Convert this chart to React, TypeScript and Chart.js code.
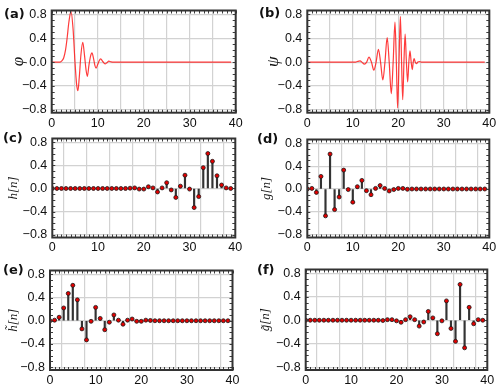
import React, { useEffect, useRef } from "react";
import { Chart, registerables } from "chart.js";

Chart.register(...registerables);

// ---------- data ----------
const sampleIndex = [
  0, 1, 2, 3, 4, 5, 6, 7, 8, 9, 10, 11, 12, 13, 14, 15, 16, 17, 18, 19,
  20, 21, 22, 23, 24, 25, 26, 27, 28, 29, 30, 31, 32, 33, 34, 35, 36, 37, 38, 39,
];

// (c) h[n]
const hValues = [
  0, 0, 0, 0, 0, 0, 0, 0, 0, 0, 0, 0, 0, 0, 0, 0, 0, 0.005, 0.01, -0.01,
  -0.01, 0.03, 0.01, -0.06, 0.01, 0.1, -0.025, -0.155, 0.04, 0.23, -0.01, -0.33, -0.14, 0.36, 0.605, 0.47, 0.22, 0.06, 0.01, 0,
];

// (d) g[n]
const gValues = [
  0, 0.01, -0.06, 0.22, -0.47, 0.61, -0.36, -0.14, 0.33, -0.01, -0.23, 0.04, 0.15, -0.03, -0.1, 0.01, 0.06, 0.01, -0.035, -0.01,
  0.01, 0.01, -0.005, 0, 0, 0, 0, 0, 0, 0, 0, 0, 0, 0, 0, 0, 0, 0, 0, 0,
];

// (e) h~[n]
const hTildeValues = [
  0, 0.01, 0.06, 0.22, 0.47, 0.61, 0.36, -0.14, -0.33, -0.01, 0.23, 0.04, -0.155, -0.025, 0.1, 0.01, -0.06, 0.01, 0.03, -0.01,
  -0.01, 0.01, 0.005, 0, 0, 0, 0, 0, 0, 0, 0, 0, 0, 0, 0, 0, 0, 0, 0, 0,
];

// (f) g~[n]
const gTildeValues = [
  0, 0, 0, 0, 0, 0, 0, 0, 0, 0, 0, 0, 0, 0, 0, 0, 0, -0.005, 0.01, 0.01,
  -0.01, -0.035, 0.01, 0.06, 0.01, -0.1, -0.03, 0.15, 0.04, -0.23, -0.01, 0.33, -0.14, -0.36, 0.61, -0.47, 0.22, -0.06, 0.01, 0,
];

// (a) scaling function phi
const phiX = [
  0, 1.8, 2.2, 2.6, 3.0, 3.35, 3.75, 4.2, 4.65, 5.05, 5.4, 5.7, 6.0, 6.35, 6.75, 7.15, 7.45, 7.75,
  8.1, 8.45, 8.75, 9.1, 9.4, 9.65, 10.0, 10.3, 10.65, 11.1, 11.6, 12.0, 12.4, 12.9, 13.5, 39,
];
const phiY = [
  0, 0, 0.02, 0.07, 0.2, 0.4, 0.68, 0.85, 0.55, 0.02, -0.36, -0.48, -0.25, 0.12, 0.33, 0.1, -0.12, -0.24,
  -0.05, 0.1, 0.155, 0.06, -0.06, -0.1, -0.04, 0.02, 0.055, 0.01, -0.03, -0.01, 0.015, 0.005, 0, 0,
];

// (b) wavelet psi
const psiX = [
  0, 9.5, 10.6, 11.0, 11.6, 12.0, 12.55, 13.05, 13.55, 14.1, 14.62, 15.12, 15.63, 16.1, 16.6, 17.07, 17.55, 18.0,
  18.46, 18.87, 19.27, 19.57, 19.85, 20.15, 20.46, 20.72, 20.97, 21.24, 21.5, 21.78, 22.06, 22.32, 22.57, 22.83,
  23.08, 23.28, 23.47, 23.72, 23.98, 24.3, 24.6, 25.0, 39,
];
const psiY = [
  0, 0, 0, 0.01, 0.02, 0.0, -0.035, 0.0, 0.085, 0.0, -0.135, 0.0, 0.215, 0.0, -0.3, 0.0, 0.41, 0.0,
  -0.53, 0.0, 0.67, 0.0, -0.77, 0.0, 0.765, 0.0, -0.63, 0.0, 0.47, 0.0, -0.33, 0.0, 0.19, 0.0,
  -0.125, 0.0, 0.06, 0.0, -0.025, 0.0, 0.01, 0, 0,
];

const yTickValues = [-0.8, -0.4, 0, 0.4, 0.8];
const xGridValues = [0, 5, 10, 15, 20, 25, 30, 35, 40];
const xLabelValues = [0, 10, 20, 30, 40];

// ---------- layout / style ----------
type PanelDef = {
  label: string;
  kind: "curve" | "stem";
  xs?: number[];
  ys: number[];
  yTitle: string;
  titleSize: number;
  titlePad: number;
  colX: number;
  L: number;
  R: number;
  T: number;
  B: number;
  labelX: number;
  labelY: number;
};

const PANELS: PanelDef[] = [
  { label: "(a)", kind: "curve", xs: phiX, ys: phiY, yTitle: "\u03c6", titleSize: 17, titlePad: 8.3, colX: 0, L: 51.7, R: 235.7, T: 6.7, B: 112.7, labelX: 4, labelY: 7 },
  { label: "(b)", kind: "curve", xs: psiX, ys: psiY, yTitle: "\u03c8", titleSize: 17, titlePad: 13.3, colX: 250, L: 307.3, R: 489.3, T: 6.5, B: 112.7, labelX: 259, labelY: 6 },
  { label: "(c)", kind: "stem", ys: hValues, yTitle: "h[n]", titleSize: 13, titlePad: 6.2, colX: 0, L: 52.3, R: 235.3, T: 134.5, B: 237.5, labelX: 3, labelY: 131 },
  { label: "(d)", kind: "stem", ys: gValues, yTitle: "g[n]", titleSize: 13, titlePad: 8.7, colX: 250, L: 307.3, R: 489.3, T: 135, B: 237.5, labelX: 257, labelY: 132 },
  { label: "(e)", kind: "stem", ys: hTildeValues, yTitle: "h\u0303[n]", titleSize: 13, titlePad: 5.7, colX: 0, L: 50, R: 232.5, T: 266, B: 370, labelX: 3, labelY: 263 },
  { label: "(f)", kind: "stem", ys: gTildeValues, yTitle: "g\u0303[n]", titleSize: 13, titlePad: 8.2, colX: 250, L: 305.7, R: 487.3, T: 265.5, B: 370, labelX: 257, labelY: 263 },
];

const Y_MIN = -0.848;
const Y_MAX = 0.865;

const framePlugin = {
  id: "frameBox",
  afterDraw(chart: any) {
    const { ctx, chartArea: a, scales } = chart;
    ctx.save();
    ctx.strokeStyle = "#3c3c3c";
    ctx.lineWidth = 1;
    // minor ticks (inside)
    for (let v = 0; v <= 40; v += 1) {
      const px = Math.round(scales.x.getPixelForValue(v)) + 0.5;
      ctx.beginPath();
      ctx.moveTo(px, a.top);
      ctx.lineTo(px, a.top + 3);
      ctx.moveTo(px, a.bottom);
      ctx.lineTo(px, a.bottom - 3);
      ctx.stroke();
    }
    for (let k = -8; k <= 8; k += 1) {
      const py = Math.round(scales.y.getPixelForValue(k / 10)) + 0.5;
      ctx.beginPath();
      ctx.moveTo(a.left, py);
      ctx.lineTo(a.left + 3, py);
      ctx.moveTo(a.right, py);
      ctx.lineTo(a.right - 3, py);
      ctx.stroke();
    }
    ctx.lineWidth = 2;
    ctx.strokeStyle = "#333333";
    ctx.strokeRect(a.left, a.top, a.right - a.left, a.bottom - a.top);
    ctx.restore();
  },
};

const fmtY = (v: number) => (v < -1e-9 ? "\u2212" : "") + Math.abs(v).toFixed(1);

function Panel({ p }: { p: PanelDef }) {
  const ref = useRef<HTMLCanvasElement | null>(null);
  const canvasTop = Math.floor(p.T) - 8;
  const canvasH = Math.ceil(p.B) + 20 - canvasTop;
  const canvasW = Math.ceil(p.R) + 10 - p.colX;
  const padTop = p.T - canvasTop;
  const padRight = p.colX + canvasW - p.R;
  const xAxisH = canvasTop + canvasH - p.B;
  const yAxisW = p.L - p.colX;

  useEffect(() => {
    if (!ref.current) return;
    const datasets: any[] = [];
    if (p.kind === "curve") {
      datasets.push({
        type: "line",
        data: (p.xs as number[]).map((x, i) => ({ x, y: p.ys[i] })),
        borderColor: "rgba(255,25,25,0.85)",
        borderWidth: 1.2,
        pointRadius: 0,
        cubicInterpolationMode: "monotone",
        fill: false,
      });
    } else {
      const pts = sampleIndex.map((n, i) => ({ x: n, y: p.ys[i] }));
      datasets.push({
        type: "scatter",
        data: pts,
        pointRadius: 2.0,
        pointBackgroundColor: "#e30000",
        pointBorderColor: "#1a1a1a",
        pointBorderWidth: 0.8,
        order: 0,
      });
      datasets.push({
        type: "bar",
        data: pts,
        backgroundColor: "#333333",
        borderWidth: 0,
        barThickness: 1.5,
        order: 1,
      });
    }
    const tickFont = { family: "'Liberation Sans', Arial, sans-serif", size: 12.5 };
    const chart = new Chart(ref.current, {
      type: "scatter",
      data: { datasets },
      plugins: [framePlugin],
      options: {
        animation: false,
        responsive: false,
        devicePixelRatio: 1,
        events: [],
        layout: { padding: { left: 0, top: padTop, right: padRight, bottom: 0 } },
        plugins: { legend: { display: false }, tooltip: { enabled: false } },
        scales: {
          x: {
            type: "linear",
            min: 0,
            max: 40,
            offset: false,
            afterBuildTicks: (s: any) => {
              s.ticks = xGridValues.map((v) => ({ value: v }));
            },
            afterFit: (s: any) => {
              s.height = xAxisH;
            },
            grid: { color: "#d2d2d2", lineWidth: 1.2, drawTicks: false },
            border: { display: false },
            ticks: {
              padding: 3,
              color: "#111",
              font: tickFont,
              maxRotation: 0,
              autoSkip: false,
              callback: (v: any) => (xLabelValues.includes(Number(v)) ? String(v) : ""),
            },
          },
          y: {
            type: "linear",
            min: Y_MIN,
            max: Y_MAX,
            afterBuildTicks: (s: any) => {
              s.ticks = yTickValues.map((v) => ({ value: v }));
            },
            afterFit: (s: any) => {
              s.width = yAxisW;
            },
            grid: { color: "#d2d2d2", lineWidth: 1.2, drawTicks: false },
            border: { display: false },
            ticks: {
              padding: 5,
              color: "#111",
              font: tickFont,
              autoSkip: false,
              callback: (v: any) => fmtY(Number(v)),
            },
            title: {
              display: true,
              text: p.yTitle,
              color: "#111",
              font: { family: "'Liberation Serif', 'DejaVu Serif', serif", style: "italic", size: p.titleSize },
              padding: { top: p.titlePad, bottom: 0 },
            },
          },
        },
      } as any,
    });
    return () => chart.destroy();
  }, []);

  return (
    <>
      <canvas
        ref={ref}
        width={canvasW}
        height={canvasH}
        style={{ position: "absolute", left: p.colX, top: canvasTop, width: canvasW, height: canvasH }}
      />
      <div
        style={{
          position: "absolute",
          left: p.labelX,
          top: p.labelY,
          font: "bold 13px 'DejaVu Sans', sans-serif",
          lineHeight: "13px",
          color: "#111",
          whiteSpace: "nowrap",
        }}
      >
        {p.label}
      </div>
    </>
  );
}

export default function App() {
  return (
    <div
      style={{
        position: "fixed",
        left: 0,
        top: 0,
        width: 500,
        height: 388,
        background: "#fff",
        overflow: "hidden",
      }}
    >
      {PANELS.map((p) => (
        <Panel key={p.label} p={p} />
      ))}
    </div>
  );
}
